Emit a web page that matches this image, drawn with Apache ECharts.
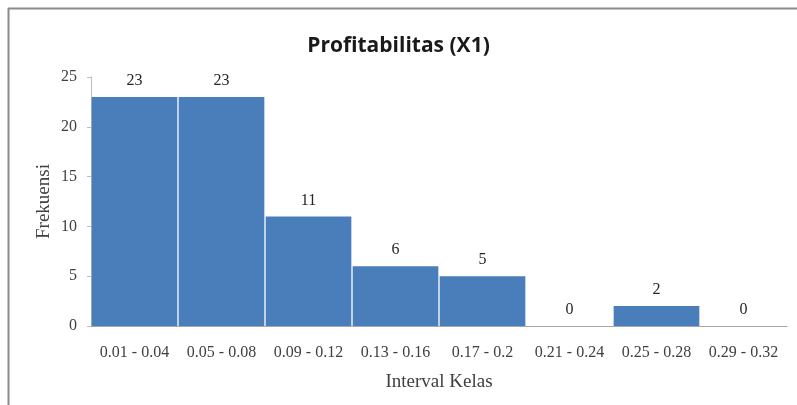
<!DOCTYPE html>
<html>
<head>
<meta charset="utf-8">
<script src="https://cdn.jsdelivr.net/npm/echarts@6/dist/echarts.min.js"></script>
<style>
  html, body { margin: 0; padding: 0; background: #ffffff; }
  #chart { width: 797px; height: 405px; }
</style>
</head>
<body>
<div id="chart"></div>
<script>
// Frequency distribution of profitability (X1) by class interval
const classIntervals = ['0.01 - 0.04', '0.05 - 0.08', '0.09 - 0.12', '0.13 - 0.16',
                        '0.17 - 0.2', '0.21 - 0.24', '0.25 - 0.28', '0.29 - 0.32'];
const frequencies = [23, 23, 11, 6, 5, 0, 2, 0];
const yTicks = [0, 5, 10, 15, 20, 25];

const serif = '"Liberation Serif", "Times New Roman", serif';
const chart = echarts.init(document.getElementById('chart'), null, { renderer: 'canvas' });

chart.setOption({
  animation: false,
  backgroundColor: '#ffffff',
  title: {
    text: 'Profitabilitas (X1)',
    left: 'center',
    top: 31,
    textStyle: { fontFamily: '"Open Sans", sans-serif', fontWeight: 'bold', fontSize: 21, color: '#1a1a1a' }
  },
  graphic: [
    { type: 'line', shape: { x1: 8, y1: 8.5, x2: 797, y2: 8.5 }, style: { stroke: '#8a8a8a', lineWidth: 2 } },
    { type: 'line', shape: { x1: 8.5, y1: 8, x2: 8.5, y2: 405 }, style: { stroke: '#8a8a8a', lineWidth: 2 } }
  ],
  grid: { left: 91, right: 10, top: 77, bottom: 79 },
  xAxis: {
    type: 'category',
    data: classIntervals,
    name: 'Interval Kelas',
    nameLocation: 'middle',
    nameGap: 47,
    nameMoveOverlap: false,
    nameTextStyle: { fontFamily: serif, fontSize: 19, color: '#404040' },
    axisLine: { lineStyle: { color: '#a6a6a6', width: 1 } },
    axisTick: { show: false },
    axisLabel: { fontFamily: serif, fontSize: 16, color: '#404040', margin: 19, interval: 0 }
  },
  yAxis: {
    type: 'value',
    min: 0,
    max: yTicks[yTicks.length - 1],
    interval: 5,
    name: 'Frekuensi',
    nameLocation: 'middle',
    nameGap: 37,
    nameMoveOverlap: false,
    nameRotate: 90,
    nameTextStyle: { fontFamily: serif, fontSize: 19, color: '#404040' },
    axisLine: { show: true, lineStyle: { color: '#bfbfbf', width: 1 } },
    axisTick: { show: true, length: 4, lineStyle: { color: '#bfbfbf' } },
    splitLine: { show: false },
    axisLabel: { fontFamily: serif, fontSize: 16, color: '#404040', margin: 14 }
  },
  series: [{
    type: 'bar',
    data: frequencies,
    barCategoryGap: '1.5%',
    itemStyle: { color: '#4a7ebb' },
    label: {
      show: true,
      position: 'top',
      distance: 8,
      fontFamily: serif,
      fontSize: 16,
      color: '#262626'
    }
  }]
});
</script>
</body>
</html>
